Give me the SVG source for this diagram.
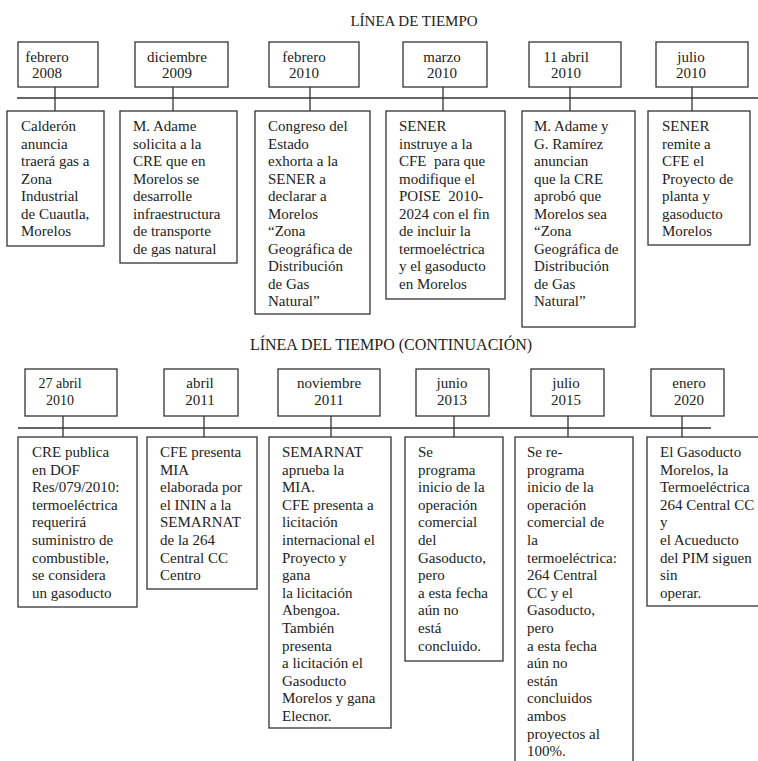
<svg xmlns="http://www.w3.org/2000/svg" width="758" height="761" viewBox="0 0 758 761">
<style>
text{font-family:"Liberation Serif","Times New Roman",serif;font-size:15px;fill:#222}
.box{fill:#fff;stroke:#333;stroke-width:1.3}
.ln{stroke:#333;stroke-width:1.3;fill:none}
.d{text-anchor:middle}
.title{font-size:15px;text-anchor:middle}
</style>
<rect width="758" height="761" fill="#fff"/>
<text class="title" x="414" y="26">LÍNEA DE TIEMPO</text>
<text class="title" x="391" y="350" style="font-size:16px">LÍNEA DEL TIEMPO (CONTINUACIÓN)</text>
<g id="connectors">
<path class="ln" d="M17 98H758"/>
<path class="ln" d="M55 87V111M173 87V111M310 87V111M443 87V111M570 87V111M692 87V111"/>
<path class="ln" d="M18 428H711"/>
<path class="ln" d="M63 416V437M204 416V437M331 416V437M454 416V437M568 416V437M682 416V437"/>
</g>
<g id="d1"><rect class="box" x="18" y="42" width="80" height="45"/><text class="d" x="47" y="62">febrero</text><text class="d" x="47" y="78">2008</text></g>
<g id="d2"><rect class="box" x="135" y="42" width="93" height="45"/><text class="d" x="177" y="62">diciembre</text><text class="d" x="177" y="78">2009</text></g>
<g id="d3"><rect class="box" x="269" y="42" width="90" height="45"/><text class="d" x="304" y="62">febrero</text><text class="d" x="304" y="78">2010</text></g>
<g id="d4"><rect class="box" x="403" y="42" width="84" height="45"/><text class="d" x="442" y="62">marzo</text><text class="d" x="442" y="78">2010</text></g>
<g id="d5"><rect class="box" x="529" y="42" width="92" height="45"/><text class="d" x="566" y="62">11 abril</text><text class="d" x="566" y="78">2010</text></g>
<g id="d6"><rect class="box" x="656" y="42" width="92" height="45"/><text class="d" x="691" y="62">julio</text><text class="d" x="691" y="78">2010</text></g>
<g id="e1"><rect class="box" x="7" y="111" width="97" height="135"/>
<text y="131"><tspan x="21">Calderón</tspan><tspan x="21" dy="17.5">anuncia</tspan><tspan x="21" dy="17.5">traerá gas a</tspan><tspan x="21" dy="17.5">Zona</tspan><tspan x="21" dy="17.5">Industrial</tspan><tspan x="21" dy="17.5">de Cuautla,</tspan><tspan x="21" dy="17.5">Morelos</tspan></text></g>
<g id="e2"><rect class="box" x="120" y="111" width="117" height="152"/>
<text y="131"><tspan x="133">M. Adame</tspan><tspan x="133" dy="17.5">solicita a la</tspan><tspan x="133" dy="17.5">CRE que en</tspan><tspan x="133" dy="17.5">Morelos se</tspan><tspan x="133" dy="17.5">desarrolle</tspan><tspan x="133" dy="17.5">infraestructura</tspan><tspan x="133" dy="17.5">de transporte</tspan><tspan x="133" dy="17.5">de gas natural</tspan></text></g>
<g id="e3"><rect class="box" x="255" y="111" width="115" height="203"/>
<text y="131"><tspan x="268">Congreso del</tspan><tspan x="268" dy="17.5">Estado</tspan><tspan x="268" dy="17.5">exhorta a la</tspan><tspan x="268" dy="17.5">SENER a</tspan><tspan x="268" dy="17.5">declarar a</tspan><tspan x="268" dy="17.5">Morelos</tspan><tspan x="268" dy="17.5">“Zona</tspan><tspan x="268" dy="17.5">Geográfica de</tspan><tspan x="268" dy="17.5">Distribución</tspan><tspan x="268" dy="17.5">de Gas</tspan><tspan x="268" dy="17.5">Natural”</tspan></text></g>
<g id="e4"><rect class="box" x="386" y="111" width="119" height="188"/>
<text y="131"><tspan x="399">SENER</tspan><tspan x="399" dy="17.5">instruye a la</tspan><tspan x="399" dy="17.5">CFE&#160; para que</tspan><tspan x="399" dy="17.5">modifique el</tspan><tspan x="399" dy="17.5">POISE&#160; 2010-</tspan><tspan x="399" dy="17.5">2024 con el fin</tspan><tspan x="399" dy="17.5">de incluir la</tspan><tspan x="399" dy="17.5">termoeléctrica</tspan><tspan x="399" dy="17.5">y el gasoducto</tspan><tspan x="399" dy="17.5">en Morelos</tspan></text></g>
<g id="e5"><rect class="box" x="522" y="111" width="113" height="216"/>
<text y="131"><tspan x="534">M. Adame y</tspan><tspan x="534" dy="17.5">G. Ramírez</tspan><tspan x="534" dy="17.5">anuncian</tspan><tspan x="534" dy="17.5">que la CRE</tspan><tspan x="534" dy="17.5">aprobó que</tspan><tspan x="534" dy="17.5">Morelos sea</tspan><tspan x="534" dy="17.5">“Zona</tspan><tspan x="534" dy="17.5">Geográfica de</tspan><tspan x="534" dy="17.5">Distribución</tspan><tspan x="534" dy="17.5">de Gas</tspan><tspan x="534" dy="17.5">Natural”</tspan></text></g>
<g id="e6"><rect class="box" x="648" y="111" width="102" height="134"/>
<text y="131"><tspan x="662">SENER</tspan><tspan x="662" dy="17.5">remite a</tspan><tspan x="662" dy="17.5">CFE el</tspan><tspan x="662" dy="17.5">Proyecto de</tspan><tspan x="662" dy="17.5">planta y</tspan><tspan x="662" dy="17.5">gasoducto</tspan><tspan x="662" dy="17.5">Morelos</tspan></text></g>
<g id="d7"><rect class="box" x="25" y="369" width="92" height="47"/><text class="d" x="60" y="388" style="font-size:14px">27 abril</text><text class="d" x="60" y="405" style="font-size:14px">2010</text></g>
<g id="d8"><rect class="box" x="164" y="369" width="74" height="47"/><text class="d" x="200" y="388">abril</text><text class="d" x="200" y="405">2011</text></g>
<g id="d9"><rect class="box" x="278" y="369" width="102" height="47"/><text class="d" x="329" y="388">noviembre</text><text class="d" x="329" y="405">2011</text></g>
<g id="d10"><rect class="box" x="416" y="369" width="73" height="47"/><text class="d" x="452" y="388">junio</text><text class="d" x="452" y="405">2013</text></g>
<g id="d11"><rect class="box" x="531" y="369" width="73" height="47"/><text class="d" x="566" y="388">julio</text><text class="d" x="566" y="405">2015</text></g>
<g id="d12"><rect class="box" x="651" y="369" width="73" height="47"/><text class="d" x="689" y="388">enero</text><text class="d" x="689" y="405">2020</text></g>
<g id="e7"><rect class="box" x="18" y="437" width="119" height="170"/>
<text y="457"><tspan x="32">CRE publica</tspan><tspan x="32" dy="17.6">en DOF</tspan><tspan x="32" dy="17.6">Res/079/2010:</tspan><tspan x="32" dy="17.6">termoeléctrica</tspan><tspan x="32" dy="17.6">requerirá</tspan><tspan x="32" dy="17.6">suministro de</tspan><tspan x="32" dy="17.6">combustible,</tspan><tspan x="32" dy="17.6">se considera</tspan><tspan x="32" dy="17.6">un gasoducto</tspan></text></g>
<g id="e8"><rect class="box" x="147" y="437" width="110" height="152"/>
<text y="457"><tspan x="160">CFE presenta</tspan><tspan x="160" dy="17.6">MIA</tspan><tspan x="160" dy="17.6">elaborada por</tspan><tspan x="160" dy="17.6">el ININ a la</tspan><tspan x="160" dy="17.6">SEMARNAT</tspan><tspan x="160" dy="17.6">de la 264</tspan><tspan x="160" dy="17.6">Central CC</tspan><tspan x="160" dy="17.6">Centro</tspan></text></g>
<g id="e9"><rect class="box" x="269" y="437" width="122" height="291"/>
<text y="457"><tspan x="282">SEMARNAT</tspan><tspan x="282" dy="17.6">aprueba la</tspan><tspan x="282" dy="17.6">MIA.</tspan><tspan x="282" dy="17.6">CFE presenta a</tspan><tspan x="282" dy="17.6">licitación</tspan><tspan x="282" dy="17.6">internacional el</tspan><tspan x="282" dy="17.6">Proyecto y</tspan><tspan x="282" dy="17.6">gana</tspan><tspan x="282" dy="17.6">la licitación</tspan><tspan x="282" dy="17.6">Abengoa.</tspan><tspan x="282" dy="17.6">También</tspan><tspan x="282" dy="17.6">presenta</tspan><tspan x="282" dy="17.6">a licitación el</tspan><tspan x="282" dy="17.6">Gasoducto</tspan><tspan x="282" dy="17.6">Morelos y gana</tspan><tspan x="282" dy="17.6">Elecnor.</tspan></text></g>
<g id="e10"><rect class="box" x="405" y="437" width="98" height="224"/>
<text y="457"><tspan x="418">Se</tspan><tspan x="418" dy="17.6">programa</tspan><tspan x="418" dy="17.6">inicio de la</tspan><tspan x="418" dy="17.6">operación</tspan><tspan x="418" dy="17.6">comercial</tspan><tspan x="418" dy="17.6">del</tspan><tspan x="418" dy="17.6">Gasoducto,</tspan><tspan x="418" dy="17.6">pero</tspan><tspan x="418" dy="17.6">a esta fecha</tspan><tspan x="418" dy="17.6">aún no</tspan><tspan x="418" dy="17.6">está</tspan><tspan x="418" dy="17.6">concluido.</tspan></text></g>
<g id="e11"><rect class="box" x="515" y="437" width="118" height="334"/>
<text y="457"><tspan x="527">Se re-</tspan><tspan x="527" dy="17.6">programa</tspan><tspan x="527" dy="17.6">inicio de la</tspan><tspan x="527" dy="17.6">operación</tspan><tspan x="527" dy="17.6">comercial de</tspan><tspan x="527" dy="17.6">la</tspan><tspan x="527" dy="17.6">termoeléctrica:</tspan><tspan x="527" dy="17.6">264 Central</tspan><tspan x="527" dy="17.6">CC y el</tspan><tspan x="527" dy="17.6">Gasoducto,</tspan><tspan x="527" dy="17.6">pero</tspan><tspan x="527" dy="17.6">a esta fecha</tspan><tspan x="527" dy="17.6">aún no</tspan><tspan x="527" dy="17.6">están</tspan><tspan x="527" dy="17.6">concluidos</tspan><tspan x="527" dy="17.6">ambos</tspan><tspan x="527" dy="17.6">proyectos al</tspan><tspan x="527" dy="17.6">100%.</tspan></text></g>
<g id="e12"><rect class="box" x="647" y="437" width="120" height="169"/>
<text y="457"><tspan x="660">El Gasoducto</tspan><tspan x="660" dy="17.6">Morelos, la</tspan><tspan x="660" dy="17.6">Termoeléctrica</tspan><tspan x="660" dy="17.6">264 Central CC</tspan><tspan x="660" dy="17.6">y</tspan><tspan x="660" dy="17.6">el Acueducto</tspan><tspan x="660" dy="17.6">del PIM siguen</tspan><tspan x="660" dy="17.6">sin</tspan><tspan x="660" dy="17.6">operar.</tspan></text></g>
</svg>
